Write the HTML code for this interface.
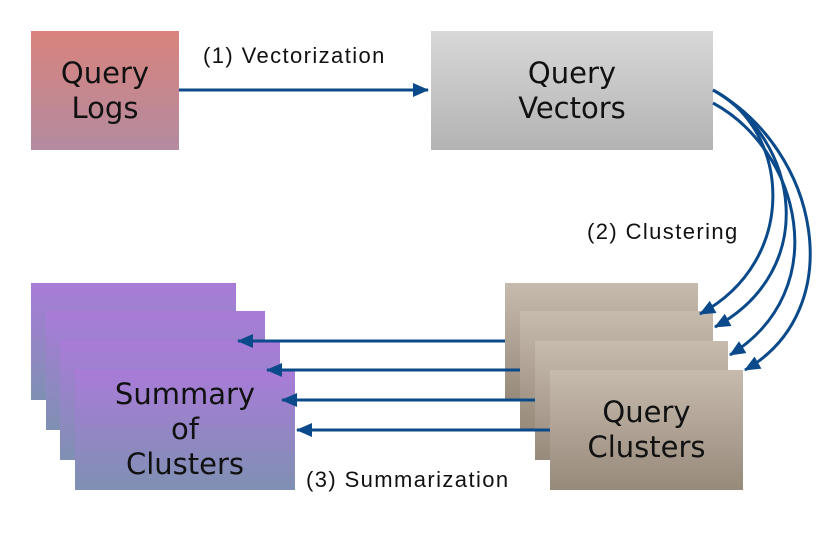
<!DOCTYPE html>
<html><head><style>
body{margin:0;background:#fff;width:830px;height:534px;overflow:hidden;font-family:"Liberation Sans",sans-serif}
.b{position:absolute;box-sizing:border-box;display:flex;align-items:center;justify-content:center;text-align:center;font-size:29px;line-height:35px;color:#111;font-family:"DejaVu Sans","Liberation Sans",sans-serif}
.p{background:linear-gradient(#a97bd8,#7f90b3)}
.c{background:linear-gradient(#c7bbae,#978a7b)}
.lbl{position:absolute;font-size:22px;letter-spacing:1.4px;color:#111}
</style></head><body>
<div class="b" style="left:31px;top:31px;width:148px;height:119px;background:linear-gradient(#d9837c,#b38ba0)">Query<br>Logs</div>
<div class="b" style="left:431px;top:31px;width:282px;height:119px;background:linear-gradient(#d8d8d8,#b3b3b3)">Query<br>Vectors</div>
<div class="b p" style="left:31px;top:283px;width:205px;height:117px"></div>
<div class="b p" style="left:46px;top:311px;width:219px;height:119px"></div>
<div class="b p" style="left:60px;top:340px;width:220px;height:120px"></div>
<div class="b p" style="left:75px;top:369px;width:220px;height:121px">Summary<br>of<br>Clusters</div>
<div class="b c" style="left:505px;top:283px;width:193px;height:117px"></div>
<div class="b c" style="left:520px;top:311px;width:193px;height:119px"></div>
<div class="b c" style="left:535px;top:341px;width:193px;height:119px"></div>
<div class="b c" style="left:550px;top:370px;width:193px;height:120px">Query<br>Clusters</div>
<div class="lbl" style="left:203px;top:43px">(1) Vectorization</div>
<div class="lbl" style="left:587px;top:219px">(2) Clustering</div>
<div class="lbl" style="left:306px;top:467px">(3) Summarization</div>
<svg width="830" height="534" style="position:absolute;left:0;top:0">
<defs><marker id="m" markerWidth="16" markerHeight="14" refX="15" refY="7" orient="auto" markerUnits="userSpaceOnUse"><path d="M0,0L16,7L0,14z" fill="#0b4a8a"/></marker></defs>
<g stroke="#0b4a8a" stroke-width="3" fill="none">
<path d="M179,90H428" marker-end="url(#m)"/>
<path d="M505,341H238" marker-end="url(#m)"/>
<path d="M520,370H267" marker-end="url(#m)"/>
<path d="M535,400H282" marker-end="url(#m)"/>
<path d="M550,430H297" marker-end="url(#m)"/>
<path d="M713,90C790,130 800,260 700,314" marker-end="url(#m)"/>
<path d="M713,90C800,140 820,270 715,327" marker-end="url(#m)"/>
<path d="M713,103C800,150 835,290 730,355" marker-end="url(#m)"/>
<path d="M713,90C820,150 850,310 745,370" marker-end="url(#m)"/>
</g></svg>
</body></html>
